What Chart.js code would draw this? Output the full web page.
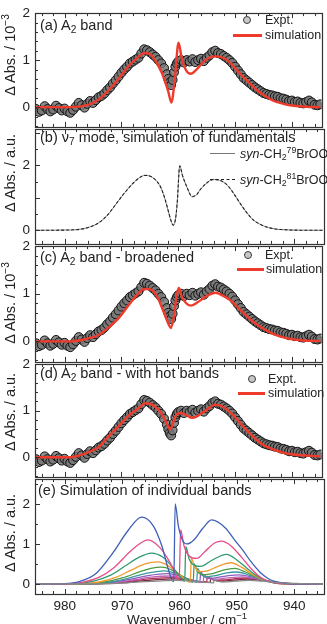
<!DOCTYPE html>
<html>
<head>
<meta charset="utf-8">
<script src="https://cdn.jsdelivr.net/npm/chart.js@4.4.0/dist/chart.umd.min.js"></script>
<style>
body { margin: 0; width: 327px; height: 624px; overflow: hidden; background: #fff; position: relative;
       font-family: "Liberation Sans", Arial, sans-serif; color: #222; }
canvas { position: absolute; left: 0; }
.ttl { position: absolute; left: 40px; font-size: 14.5px; line-height: 1; white-space: nowrap; transform: translateY(-50%); }
.lg { position: absolute; font-size: 12.5px; line-height: 1; white-space: nowrap; transform: translateY(-50%); }
.yt { position: absolute; left: 10px; font-size: 14.5px; line-height: 1; white-space: nowrap;
      transform: translate(-50%, -50%) rotate(-90deg); }
.xt { position: absolute; left: 187px; top: 620px; font-size: 13.5px; line-height: 1; white-space: nowrap; transform: translate(-50%, -50%); }
sub { font-size: 70%; vertical-align: -0.3em; line-height: 0; }
sup { font-size: 70%; vertical-align: 0.6em; line-height: 0; }
.circ { position: absolute; width: 6px; height: 6px; border: 1.4px solid #3a3a3a; border-radius: 50%; background: #c8c8c8; }
.red { position: absolute; height: 2.5px; background: #ef3b2c; }
.sol { position: absolute; height: 0; border-top: 1px solid #777; }
.das { position: absolute; height: 0; border-top: 1.2px dashed #222; }
</style>
</head>
<body>
<canvas id="pa" width="327" height="140" style="top:0px"></canvas>
<canvas id="pb" width="327" height="141" style="top:116px"></canvas>
<canvas id="pc" width="327" height="142" style="top:233px"></canvas>
<canvas id="pd" width="327" height="139" style="top:351px"></canvas>
<canvas id="pe" width="327" height="154" style="top:466px"></canvas>

<div class="ttl" style="top:25px">(a) A<sub>2</sub> band</div>
<div class="ttl" style="top:137px">(b) ν<sub>7</sub> mode, simulation of fundamentals</div>
<div class="ttl" style="top:257px">(c) A<sub>2</sub> band - broadened</div>
<div class="ttl" style="top:373px">(d) A<sub>2</sub> band - with hot bands</div>
<div class="ttl" style="top:490px; left:38px">(e) Simulation of individual bands</div>

<span class="circ" style="left:243px; top:16px"></span><div class="lg" style="left:265px; top:20px">Expt.</div>
<span class="red" style="left:233px; top:34px; width:29px"></span><div class="lg" style="left:265px; top:35px">simulation</div>

<span class="sol" style="left:210px; top:153px; width:25px"></span><div class="lg" style="left:240px; top:154px"><i>syn</i>-CH<sub>2</sub><sup>79</sup>BrOO</div>
<span class="das" style="left:210px; top:179px; width:25px"></span><div class="lg" style="left:240px; top:180px"><i>syn</i>-CH<sub>2</sub><sup>81</sup>BrOO</div>

<span class="circ" style="left:244px; top:251px"></span><div class="lg" style="left:265px; top:255px">Expt.</div>
<span class="red" style="left:237px; top:268px; width:27px"></span><div class="lg" style="left:266px; top:269px">simulation</div>

<span class="circ" style="left:248px; top:375px"></span><div class="lg" style="left:268px; top:379px">Expt.</div>
<span class="red" style="left:238px; top:392px; width:27px"></span><div class="lg" style="left:268px; top:393px">simulation</div>

<div class="yt" style="top:55px">Δ Abs. / 10<sup>−3</sup></div>
<div class="yt" style="top:173px">Δ Abs. / a.u.</div>
<div class="yt" style="top:303px">Δ Abs. / 10<sup>−3</sup></div>
<div class="yt" style="top:412px">Δ Abs. / a.u.</div>
<div class="yt" style="top:533px">Δ Abs. / a.u.</div>
<div class="xt">Wavenumber / cm<sup>−1</sup></div>

<script>
/*************************  Data  *************************/
var WN_MIN = 934.8, WN_MAX = 985.2;

// experimental spectrum (same in a, c, d)
var exptWn = [985, 984.5, 984, 983.5, 983, 982.5, 982, 981.5, 981, 980.5, 980, 979.5, 979, 978.5, 978, 977.5,
    977, 976.5, 976, 975.5, 975, 974.5, 974, 973.5, 973, 972.5, 972, 971.5, 971, 970.5, 970, 969.5, 969,
    968.5, 968, 967.5, 967, 966.5, 966, 965.5, 965, 964.5, 964, 963.5, 963, 962.5, 962, 961.75, 961.5,
    961.25, 961, 960.75, 960.5, 960.25, 960, 959.5, 959, 958.5, 958, 957.5, 957, 956.5, 956, 955.5, 955,
    954.5, 954, 953.5, 953, 952.5, 952, 951.5, 951, 950.5, 950, 949.5, 949, 948.5, 948, 947.5, 947, 946.5,
    946, 945.5, 945, 944.5, 944, 943.5, 943, 942.5, 942, 941.5, 941, 940.5, 940, 939.5, 939, 938.5, 938,
    937.5, 937, 936.5, 936, 935.5, 935];
var exptAbs = [-0.04, -0.1, -0.07, 0.02, -0.04, -0.09, -0.05, 0.03, -0.02, -0.07, -0.03, -0.09, -0.12, -0.06, 0.01, 0.09,
    0.04, -0.01, 0.07, 0.13, 0.09, 0.15, 0.21, 0.24, 0.29, 0.36, 0.42, 0.5, 0.57, 0.65, 0.73, 0.8, 0.86,
    0.93, 0.97, 1.01, 1.05, 1.14, 1.23, 1.21, 1.17, 1.12, 1.07, 1.0, 0.93, 0.83, 0.7, 0.6, 0.52,
    0.47, 0.58, 0.74, 0.86, 0.93, 0.97, 1.0, 0.95, 1.0, 0.97, 1.02, 0.96, 1.0, 1.03, 0.98, 1.05,
    1.1, 1.17, 1.2, 1.15, 1.13, 1.09, 1.05, 1.0, 0.94, 0.86, 0.78, 0.7, 0.62, 0.57, 0.52, 0.47, 0.42,
    0.38, 0.34, 0.3, 0.28, 0.26, 0.25, 0.23, 0.22, 0.19, 0.18, 0.16, 0.13, 0.14, 0.11, 0.12, 0.09, 0.08,
    0.11, 0.14, 0.1, 0.05, 0.04, 0.06];

// (a) simulation
var simA = [[985, 0], [979, 0], [977.4, 0.01], [975.6, 0.06], [973.9, 0.17], [972.1, 0.375], [970.4, 0.62],
    [968.7, 0.875], [966.9, 1.08], [966, 1.15], [965.2, 1.14], [964.3, 1.04], [962.9, 0.73], [961.8, 0.35],
    [961.2, 0.1], [960.6, 0.6], [959.95, 1.37], [959.4, 1.05], [958.6, 0.78], [957.8, 0.71], [956.8, 0.8],
    [955.5, 0.97], [954.2, 1.07], [953.3, 1.08], [951.9, 1.04], [950.5, 0.9], [949.2, 0.72], [947.7, 0.54],
    [946.3, 0.375], [944.8, 0.24], [943.3, 0.14], [941.8, 0.08], [940.4, 0.04], [937.5, 0.01], [935, 0]];

// (b) fundamentals of the two isotopologues
var fundWn = [985, 979, 977, 975.5, 974, 972.5, 970.9, 969.5, 968.1, 967, 966, 964.9, 963.9, 963.2, 962.5,
    961.9, 961.5, 961.1, 960.7, 960.4, 959.95, 959.5, 958.7, 957.8, 957, 956.4, 955.3, 954.2, 953, 951.7,
    950.6, 949.5, 948.3, 947.2, 946, 944.8, 943.3, 942, 940, 935];
var fund79 = [0, 0.01, 0.04, 0.11, 0.24, 0.48, 0.85, 1.17, 1.45, 1.62, 1.7, 1.65, 1.5, 1.3, 0.94,
    0.55, 0.3, 0.15, 0.35, 0.85, 2.0, 1.7, 1.33, 1.03, 1.1, 1.25, 1.45, 1.57, 1.54, 1.4,
    1.15, 0.85, 0.55, 0.33, 0.19, 0.1, 0.04, 0.02, 0.005, 0];
var fund81 = [0, 0.01, 0.04, 0.11, 0.24, 0.48, 0.85, 1.17, 1.45, 1.62, 1.69, 1.65, 1.5, 1.3, 0.95,
    0.56, 0.31, 0.16, 0.34, 0.84, 1.98, 1.7, 1.33, 1.04, 1.1, 1.25, 1.45, 1.56, 1.54, 1.4,
    1.15, 0.85, 0.55, 0.33, 0.19, 0.1, 0.04, 0.02, 0.005, 0];

// (c) broadened simulation
var simC = [[985, 0], [979, 0], [977, 0.03], [975, 0.09], [973.9, 0.14], [972.2, 0.3], [970.4, 0.5],
    [968.6, 0.78], [967.2, 0.98], [966, 1.1], [965.2, 1.1], [963.9, 0.98], [962.5, 0.6], [961.7, 0.36],
    [961.3, 0.28], [960.8, 0.5], [960.3, 0.95], [959.9, 1.12], [959.4, 0.95], [958.6, 0.8], [957.8, 0.75],
    [956.6, 0.82], [955, 0.95], [953.5, 1.02], [952, 0.95], [950.7, 0.85], [949, 0.65], [947.2, 0.45],
    [945.5, 0.3], [943.7, 0.18], [942, 0.1], [940.2, 0.05], [938, 0.02], [935, 0.01]];

// (d) simulation with hot bands
var simD = [[985, 0], [979, 0], [977.4, 0.04], [975.6, 0.12], [973.9, 0.23], [972.1, 0.47], [970.4, 0.68],
    [968.7, 0.9], [966.9, 1.06], [965.8, 1.16], [964.4, 1.12], [962.9, 0.93], [962, 0.72], [961.4, 0.6],
    [960.8, 0.78], [960.2, 0.93], [959.5, 0.95], [958.5, 0.9], [957.6, 0.85], [956.7, 0.88], [955.2, 1.0],
    [953.5, 1.13], [952.1, 1.08], [950.3, 0.9], [948.5, 0.65], [946.8, 0.44], [945.1, 0.27], [943.3, 0.17],
    [941.6, 0.1], [939.9, 0.06], [937.5, 0.04], [935, 0.02]];

// (e) individual bands, strongest first
var band1 = [[985, 0], [980, 0.01], [977.5, 0.06], [974.5, 0.27], [971.5, 0.8], [969, 1.33], [966.6, 1.67],
    [964.6, 1.46], [963.1, 0.96], [962, 0.39], [961.3, 0.1], [961.0, 0.06], [960.75, 2.0], [960.2, 1.45],
    [959.5, 1.1], [958.7, 1.0], [957.5, 1.1], [956, 1.38], [954.4, 1.6], [952, 1.4], [950.5, 1.12],
    [949, 0.85], [947.5, 0.55], [946, 0.3], [944.5, 0.13], [943, 0.05], [941, 0.01], [935, 0]];
var band2 = [[985, 0], [980, 0], [977, 0.04], [974, 0.17], [971.5, 0.4], [968.7, 0.8], [967, 1.0],
    [965.5, 1.1], [963.5, 0.92], [962, 0.62], [961, 0.35], [960.3, 0.12], [960.05, 0.1], [959.8, 1.35],
    [959.2, 0.95], [958.3, 0.7], [957, 0.64], [955.5, 0.82], [953.8, 1.03], [952.7, 1.07], [951, 0.95],
    [949.2, 0.67], [947.5, 0.38], [946, 0.18], [944.5, 0.07], [942.5, 0.01], [935, 0]];
var band3 = [[985, 0], [978, 0.01], [975, 0.07], [972, 0.22], [969.5, 0.45], [967, 0.67], [964.9, 0.77],
    [963, 0.68], [961.5, 0.47], [960.2, 0.24], [959.3, 0.08], [959.1, 0.07], [958.9, 0.93], [958.3, 0.62],
    [957.3, 0.46], [956.3, 0.44], [954.5, 0.58], [951.8, 0.74], [950, 0.6], [948.3, 0.4], [946.5, 0.2],
    [944.8, 0.08], [942.5, 0.01], [935, 0]];
var band4 = [[985, 0], [977, 0.01], [974, 0.05], [971, 0.17], [968.5, 0.34], [966, 0.5], [963.8, 0.55],
    [962, 0.46], [960.5, 0.3], [959.2, 0.14], [958.3, 0.05], [958.1, 0.05], [957.95, 0.66], [957.4, 0.44],
    [956.4, 0.31], [955.3, 0.32], [953.5, 0.43], [951, 0.53], [949.2, 0.42], [947.5, 0.26], [945.5, 0.11],
    [943.5, 0.03], [941, 0], [935, 0]];
var band5 = [[985, 0], [976, 0.01], [973, 0.05], [970, 0.15], [967, 0.3], [965, 0.39], [963.1, 0.42],
    [961.5, 0.36], [960, 0.24], [958.8, 0.12], [957.8, 0.05], [957.6, 0.05], [957.45, 0.5], [956.9, 0.32],
    [955.8, 0.23], [954.5, 0.25], [952.5, 0.34], [950.4, 0.39], [948.5, 0.3], [946.5, 0.17], [944.5, 0.07],
    [942, 0.01], [935, 0]];
var band6 = [[985, 0], [975, 0.01], [972, 0.05], [969, 0.14], [966, 0.26], [962.6, 0.33], [961, 0.28],
    [959.5, 0.19], [958.2, 0.1], [957.2, 0.05], [957.0, 0.05], [956.85, 0.39], [956.3, 0.25], [955.3, 0.18],
    [954, 0.2], [952, 0.27], [950, 0.3], [948, 0.23], [946, 0.13], [944, 0.05], [941.5, 0.01], [935, 0]];
var band7 = [[985, 0], [975, 0.01], [971.5, 0.05], [968.5, 0.12], [965.5, 0.21], [962.1, 0.26], [960.5, 0.22],
    [959, 0.15], [957.6, 0.08], [956.6, 0.05], [956.45, 0.05], [956.3, 0.3], [955.8, 0.2], [954.8, 0.14],
    [953.5, 0.16], [951.5, 0.21], [949.6, 0.23], [947.5, 0.18], [945.5, 0.1], [943.5, 0.04], [941, 0.01], [935, 0]];
var band8 = [[985, 0], [974, 0.01], [971, 0.04], [968, 0.1], [965, 0.17], [961.7, 0.2], [960, 0.17],
    [958.5, 0.12], [957, 0.07], [956.0, 0.05], [955.85, 0.05], [955.75, 0.24], [955.2, 0.16], [954.3, 0.11],
    [953, 0.13], [951, 0.16], [949.2, 0.18], [947, 0.14], [945, 0.08], [943, 0.03], [940.5, 0.01], [935, 0]];
var band9 = [[985, 0], [974, 0.01], [970.5, 0.04], [967.5, 0.09], [964.5, 0.14], [961.3, 0.16], [959.5, 0.14],
    [958, 0.1], [956.5, 0.06], [955.4, 0.05], [955.25, 0.05], [955.15, 0.19], [954.6, 0.13], [953.7, 0.09],
    [952.4, 0.1], [950.5, 0.13], [948.8, 0.15], [946.5, 0.12], [944.5, 0.07], [942.5, 0.03], [940, 0.01], [935, 0]];
var band10 = [[985, 0], [973, 0.01], [970, 0.03], [967, 0.07], [964, 0.11], [960.9, 0.13], [959, 0.11],
    [957.5, 0.08], [956, 0.05], [954.8, 0.04], [954.65, 0.04], [954.55, 0.15], [954, 0.1], [953.1, 0.07],
    [951.8, 0.08], [950, 0.1], [948.3, 0.12], [946, 0.1], [944, 0.06], [942, 0.02], [939.5, 0.01], [935, 0]];
var band11 = [[985, 0], [972, 0.01], [969, 0.03], [966, 0.06], [963, 0.08], [960.5, 0.09], [958.5, 0.08],
    [957, 0.06], [955.5, 0.04], [954.2, 0.03], [954.05, 0.03], [953.95, 0.11], [953.4, 0.07], [952.5, 0.05],
    [951, 0.06], [949.5, 0.08], [947.8, 0.09], [945.5, 0.07], [943.5, 0.04], [941.5, 0.02], [939, 0.01], [935, 0]];

var bandColors = ['#3f5fb8', '#e84a8a', '#2f9a70', '#f29a30', '#4c9a44', '#3a9aa0', '#8e5bbf',
    '#c064b8', '#b03050', '#7a2540', '#8a8a8a'];

/*****************************  Helpers  *****************************/
Chart.defaults.font.family = "'Liberation Sans', Arial, sans-serif";
Chart.defaults.font.size = 13;
Chart.defaults.color = '#222';

function pts(xs, ys) {
    return xs.map(function (x, i) { return {x: x, y: ys[i]}; });
}
function pairs(arr) {
    return arr.map(function (p) { return {x: p[0], y: p[1]}; });
}
function isInt(v) {
    return Math.abs(v - Math.round(v)) < 1e-6;
}

// box round the plot and inward ticks (major longer)
var frame = {
    id: 'frame',
    afterDatasetsDraw: function (chart) {
        var ctx = chart.ctx, a = chart.chartArea;
        var x = chart.scales.x, y = chart.scales.y;
        ctx.save();
        ctx.strokeStyle = '#333';
        ctx.lineWidth = 1;
        ctx.beginPath();
        x.ticks.forEach(function (t) {
            if (t.value < x.min || t.value > x.max) return;
            var px = Math.round(x.getPixelForValue(t.value)) + 0.5;
            var len = t.value % 10 === 0 ? 5 : 3;
            ctx.moveTo(px, a.bottom); ctx.lineTo(px, a.bottom - len);
            ctx.moveTo(px, a.top); ctx.lineTo(px, a.top + len);
        });
        y.ticks.forEach(function (t) {
            if (t.value < y.min || t.value > y.max) return;
            var py = Math.round(y.getPixelForValue(t.value)) + 0.5;
            var len = isInt(t.value) ? 5 : 3;
            ctx.moveTo(a.left, py); ctx.lineTo(a.left + len, py);
        });
        ctx.stroke();
        ctx.lineWidth = 1.2;
        ctx.strokeRect(Math.round(a.left) + 0.5, Math.round(a.top) + 0.5,
            Math.round(a.right - a.left), Math.round(a.bottom - a.top));
        ctx.restore();
    }
};

function lineSet(data, color, width, dash) {
    return {
        data: data, borderColor: color, borderWidth: width, borderDash: dash || [],
        pointRadius: 0, fill: false, cubicInterpolationMode: 'monotone'
    };
}
function exptSet() {
    return {
        data: pts(exptWn, exptAbs), showLine: false, pointRadius: 4.5,
        pointBackgroundColor: 'rgba(120,120,120,0.85)', pointBorderColor: '#111', pointBorderWidth: 1
    };
}

function makePanel(id, yMin, yMax, yStep, yLabels, datasets, showX) {
    return new Chart(document.getElementById(id), {
        type: 'line',
        data: {datasets: datasets},
        options: {
            responsive: false,
            animation: false,
            events: [],
            layout: {padding: {top: 12, right: 3, bottom: showX ? 4 : 12, left: 0}},
            plugins: {legend: {display: false}, tooltip: {enabled: false}},
            scales: {
                x: {
                    type: 'linear', reverse: true, min: WN_MIN, max: WN_MAX,
                    grid: {display: false, drawTicks: false}, border: {display: false},
                    ticks: {
                        display: showX, stepSize: 2, autoSkip: false, maxRotation: 0, padding: 4,
                        includeBounds: false, font: {size: 13.5},
                        callback: function (v) { return v % 10 === 0 ? String(v) : ''; }
                    },
                    afterFit: function (s) { s.height = showX ? 22 : 0; }
                },
                y: {
                    min: yMin, max: yMax,
                    grid: {display: false, drawTicks: false}, border: {display: false},
                    ticks: {
                        stepSize: yStep, autoSkip: false, padding: 5, includeBounds: false, font: {size: 13.5},
                        callback: function (v) {
                            return (isInt(v) && yLabels.indexOf(Math.round(v)) >= 0) ? String(Math.round(v)) : '';
                        }
                    },
                    afterFit: function (s) { s.width = 35; }
                }
            }
        },
        plugins: [frame]
    });
}

/*****************************  Panels  *****************************/
makePanel('pa', -0.42, 2, 0.2, [0, 1, 2],
    [lineSet(pairs(simA), '#ef3b2c', 2.4), exptSet()], false);

makePanel('pb', -0.42, 3.12, 0.5, [0, 2],
    [lineSet(pts(fundWn, fund81), '#222', 1.1, [3, 2]), lineSet(pts(fundWn, fund79), '#888', 1)], false);

makePanel('pc', -0.43, 2, 0.2, [0, 1, 2],
    [lineSet(pairs(simC), '#ef3b2c', 2.4), exptSet()], false);

makePanel('pd', -0.42, 2, 0.2, [0, 1, 2],
    [lineSet(pairs(simD), '#ef3b2c', 2.4), exptSet()], false);

var bands = [band11, band1, band2, band3, band4, band5, band6, band7, band8, band9, band10];
var bandCol = [bandColors[10]].concat(bandColors.slice(0, 10));
makePanel('pe', -0.25, 2.62, 0.5, [0, 1, 2],
    bands.map(function (b, i) { return lineSet(pairs(b), bandCol[i], 1.3); }), true);
</script>
</body>
</html>
